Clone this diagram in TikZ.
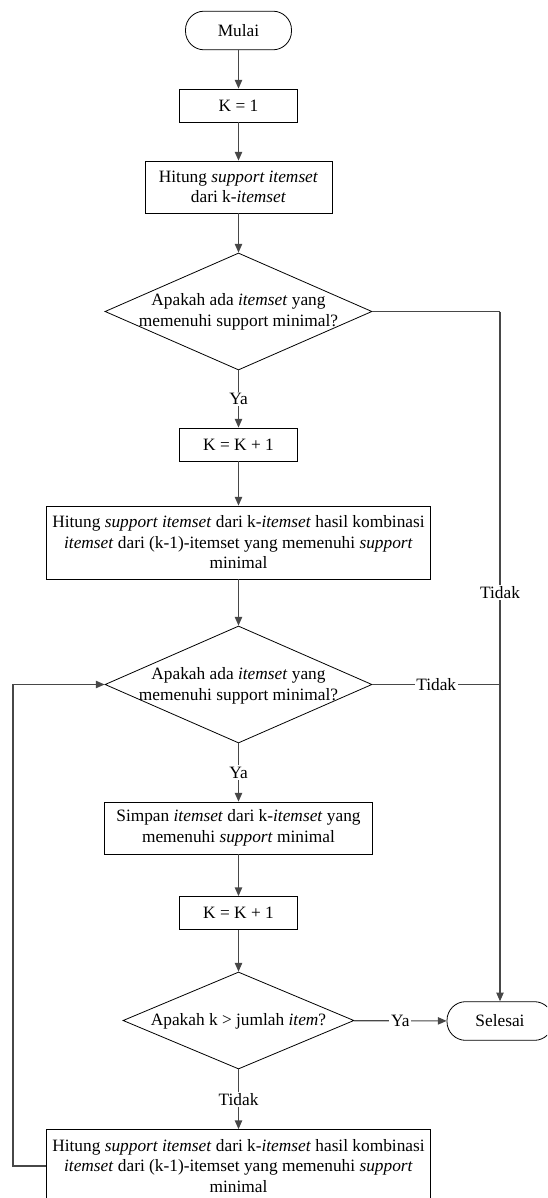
\documentclass[tikz,border=0pt]{standalone}
\usepackage{fontspec}
\setmainfont{Liberation Serif}
\usetikzlibrary{arrows.meta,shapes.geometric}
\begin{document}
\begin{tikzpicture}[x=0.75pt,y=-0.75pt,
  font=\fontsize{13}{15.4}\selectfont,
  base/.style={draw=black,line width=0.6pt,align=center,inner sep=0pt},
  term/.style={base,rectangle,rounded corners=14pt,minimum width=79.5pt,minimum height=29pt},
  procS/.style={base,rectangle,minimum width=88.5pt,minimum height=24.75pt},
  procM/.style={base,rectangle,minimum width=140.25pt,minimum height=39pt},
  procW/.style={base,rectangle,minimum width=201pt,minimum height=39pt},
  procL/.style={base,rectangle,minimum width=288pt,minimum height=54.75pt},
  dec/.style={base,diamond,minimum width=200.25pt,minimum height=87.75pt},
  txt/.style={align=center,inner sep=0pt},
  conn/.style={draw=black!72,line width=0.85pt},
  arr/.style={conn,-{Triangle[length=6.5pt,width=5.5pt]}},
  lbl/.style={fill=white,inner sep=1.2pt}
]
\useasboundingbox (0,0) rectangle (547,1198);
\clip (0,0) rectangle (547,1198);

\node[term] (start) at (238.5,30.5) {Mulai};
\node[procS] (k1) at (238.5,105.5) {K = 1};
\node[procM] (h1) at (238.5,187) {Hitung \textit{support itemset}\\dari k-\textit{itemset}};
\node[dec] (d1) at (238.5,311.5) {};
\node[txt] (d1t) at (238.5,312) {Apakah ada \textit{itemset} yang\\memenuhi support minimal?};
\node[procS] (k2) at (238.5,444.5) {K = K + 1};
\node[procL] (h2) at (238.5,542.5) {Hitung \textit{support itemset} dari k-\textit{itemset} hasil kombinasi\\\textit{itemset} dari (k-1)-itemset yang memenuhi \textit{support}\\minimal};
\node[dec] (d2) at (238.5,684.5) {};
\node[txt] (d2t) at (238.5,686) {Apakah ada \textit{itemset} yang\\memenuhi support minimal?};
\node[procW] (simpan) at (238.5,828) {Simpan \textit{itemset} dari k-\textit{itemset} yang\\memenuhi \textit{support} minimal};
\node[procS] (k3) at (238.5,913) {K = K + 1};
\node[dec,minimum width=173.25pt,minimum height=72.75pt] (d3) at (238.5,1020.5) {};
\node[txt] (d3t) at (238.5,1021) {Apakah k > jumlah \textit{item}?};
\node[term] (end) at (500,1021) {Selesai};
\node[procL] (h3) at (238.5,1166) {Hitung \textit{support itemset} dari k-\textit{itemset} hasil kombinasi\\\textit{itemset} dari (k-1)-itemset yang memenuhi \textit{support}\\minimal};

\coordinate (r1) at (500,311.5);
\coordinate (r2) at (500,684.5);
\coordinate (l1) at (13,1166);
\coordinate (l2) at (13,684.5);

\draw[arr] (start) -- (k1);
\draw[arr] (k1) -- (h1);
\draw[arr] (h1) -- (d1);
\draw[arr] (d1) -- node[lbl]{Ya} (k2);
\draw[arr] (k2) -- (h2);
\draw[arr] (h2) -- (d2);
\draw[arr] (d2) -- node[lbl]{Ya} (simpan);
\draw[arr] (simpan) -- (k3);
\draw[arr] (k3) -- (d3);
\draw[arr] (d3) -- node[lbl]{Tidak} (h3);
\draw[arr] (d3) -- node[lbl]{Ya} (end);
\draw[conn] (d1.east) -- (r1);
\draw[arr] (r1) -- node[lbl,pos=0.407]{Tidak} (end);
\draw[conn] (d2.east) -- node[lbl]{Tidak} (r2);
\draw[arr] (h3.west) -- (l1) -- (l2) -- (d2.west);
\end{tikzpicture}
\end{document}
